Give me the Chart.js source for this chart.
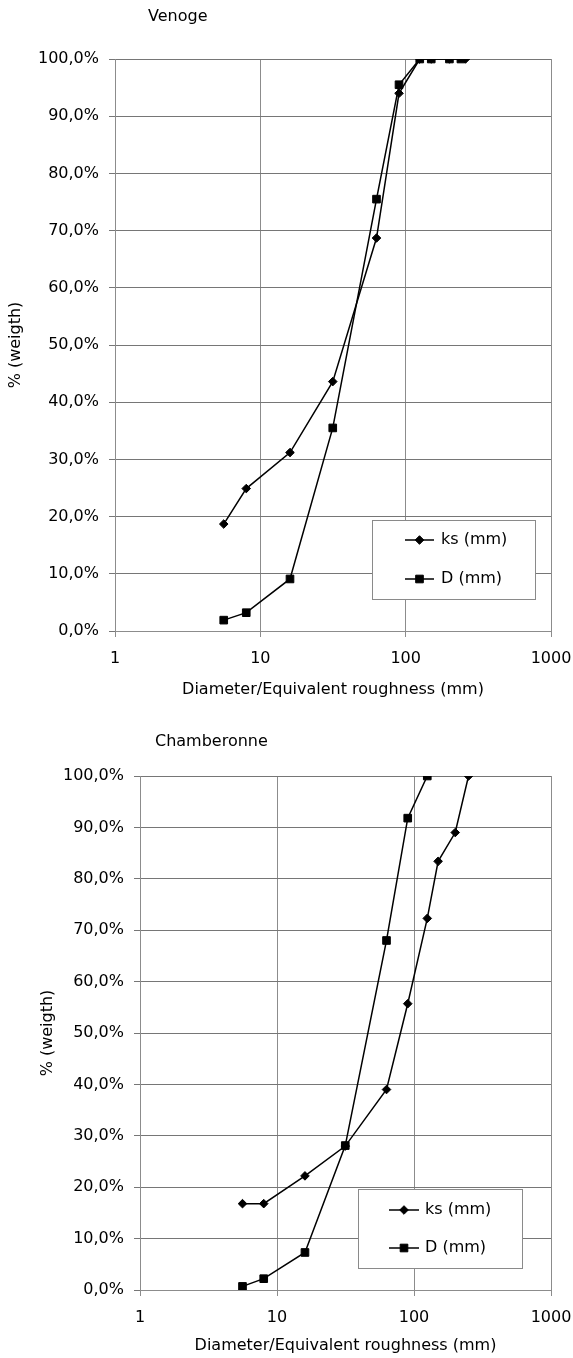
<!DOCTYPE html>
<html><head><meta charset="utf-8">
<script src="https://cdn.jsdelivr.net/npm/chart.js@4.4.1/dist/chart.umd.min.js"></script>
<style>
html,body{margin:0;padding:0;background:#fff;}
#wrap{position:relative;width:573px;height:1358px;overflow:hidden;}
canvas{position:absolute;left:0;}
</style></head><body>
<div id="wrap">
<canvas id="c1" width="573" height="705" style="top:0px;width:573px;height:705px"></canvas>
<canvas id="c2" width="573" height="653" style="top:705px;width:573px;height:653px"></canvas>
</div>
<script>
// ---- data ----
const xTickValues = [1, 10, 100, 1000];
const yMin = 0, yMax = 100, yStep = 10;
const seriesNames = ['ks (mm)', 'D (mm)'];
const chartTitles = ['Venoge', 'Chamberonne'];
const xAxisTitle = 'Diameter/Equivalent roughness (mm)';
const yAxisTitle = '% (weigth)';

const venogeKsX = [5.6, 8, 16, 31.5, 63, 90, 125, 150, 200, 258];
const venogeKsY = [18.7, 24.9, 31.2, 43.6, 68.7, 94.0, 100, 100, 100, 100];
const venogeDX  = [5.6, 8, 16, 31.5, 63, 90, 125, 150, 200, 240];
const venogeDY  = [1.9, 3.2, 9.1, 35.5, 75.5, 95.5, 100, 100, 100, 100];

const chamberonneKsX = [5.6, 8, 16, 31.5, 63, 90, 125, 150, 200, 250];
const chamberonneKsY = [16.8, 16.8, 22.2, 28.0, 39.0, 55.7, 72.3, 83.4, 89.0, 100];
const chamberonneDX  = [5.6, 8, 16, 31.5, 63, 90, 125];
const chamberonneDY  = [0.7, 2.2, 7.3, 28.1, 68.0, 91.8, 100];

// ---- style ----
const FONT = 'DejaVu Sans, Liberation Sans, Arial, sans-serif';
const FS = 16;

function pts(xs, ys) { return xs.map((x, i) => ({x: x, y: ys[i]})); }

const overlayPlugin = {
  id: 'overlay',
  afterDraw(chart, args, opts) {
    const ctx = chart.ctx;
    ctx.save();
    ctx.font = FS + 'px ' + FONT;
    ctx.fillStyle = '#000';
    ctx.textAlign = 'left';
    ctx.textBaseline = 'middle';
    ctx.fillText(opts.title, opts.titleX, opts.titleY);
    const b = opts.legend;
    ctx.fillStyle = '#fff';
    ctx.fillRect(b.x, b.y, b.w, b.h);
    ctx.strokeStyle = '#8a8a8a';
    ctx.lineWidth = 1;
    ctx.strokeRect(Math.round(b.x) + 0.5, Math.round(b.y) + 0.5, Math.round(b.w), Math.round(b.h));
    chart.data.datasets.forEach((ds, i) => {
      const y = b.y + b.rows[i];
      const x0 = b.x + b.lineStart, x1 = x0 + b.lineLen;
      ctx.strokeStyle = ds.borderColor;
      ctx.lineWidth = ds.borderWidth;
      ctx.beginPath(); ctx.moveTo(x0, y); ctx.lineTo(x1, y); ctx.stroke();
      ctx.fillStyle = ds.pointBackgroundColor;
      ctx.strokeStyle = ds.pointBorderColor;
      ctx.lineWidth = ds.pointBorderWidth;
      Chart.helpers.drawPoint(ctx, {pointStyle: ds.pointStyle, radius: ds.pointRadius, rotation: 0, borderWidth: ds.pointBorderWidth}, (x0 + x1) / 2, y);
      ctx.fillStyle = '#000';
      ctx.fillText(ds.label, x1 + b.textGap, y);
    });
    ctx.restore();
  }
};

function makeChart(id, cfg) {
  const ks = {
    label: seriesNames[0], data: cfg.ks, order: 1,
    borderColor: '#000', borderWidth: 1.5, backgroundColor: '#000',
    pointStyle: 'rectRot', pointRadius: 4.3, pointBorderWidth: 1,
    pointBackgroundColor: '#000', pointBorderColor: '#000', tension: 0
  };
  const d = {
    label: seriesNames[1], data: cfg.d, order: 0,
    borderColor: '#000', borderWidth: 1.5, backgroundColor: '#000',
    pointStyle: 'rect', pointRadius: 5.4, pointBorderWidth: 1,
    pointBackgroundColor: '#000', pointBorderColor: '#000', tension: 0
  };
  return new Chart(document.getElementById(id), {
    type: 'line',
    data: {datasets: [ks, d]},
    plugins: [overlayPlugin],
    options: {
      responsive: false, animation: false, devicePixelRatio: 1,
      layout: {padding: cfg.padding},
      plugins: {
        legend: {display: false}, title: {display: false}, tooltip: {enabled: false},
        overlay: {title: cfg.title, titleX: cfg.titleX, titleY: cfg.titleY, legend: cfg.legend}
      },
      scales: {
        x: {
          type: 'logarithmic', min: 1, max: 1000,
          afterBuildTicks: s => { s.ticks = xTickValues.map(v => ({value: v, major: true})); },
          afterFit: s => { s.height = cfg.xHeight; s.paddingLeft = 0; s.paddingRight = 0; },
          ticks: {color: '#000', font: {family: FONT, size: FS}, padding: 12, maxRotation: 0, autoSkip: false,
                  callback: v => String(v)},
          grid: {color: '#8c8c8c', lineWidth: 1, tickLength: 6, drawTicks: true},
          border: {color: '#8c8c8c', width: 1},
          title: {display: true, text: xAxisTitle, color: '#000', font: {family: FONT, size: FS},
                  padding: {top: 0, bottom: cfg.xTitlePad}}
        },
        y: {
          min: yMin, max: yMax,
          afterFit: s => { s.width = cfg.yWidth; s.paddingTop = 0; s.paddingBottom = 0; },
          ticks: {stepSize: yStep, color: '#000', font: {family: FONT, size: FS}, padding: 10,
                  callback: v => v.toFixed(1).replace('.', ',') + '%'},
          grid: {color: '#767676', lineWidth: 1, tickLength: 6, drawTicks: true},
          border: {color: '#8c8c8c', width: 1},
          title: {display: true, text: yAxisTitle, color: '#000', font: {family: FONT, size: FS},
                  padding: {top: cfg.yTitlePad, bottom: 0}}
        }
      }
    }
  });
}

makeChart('c1', {
  ks: pts(venogeKsX, venogeKsY), d: pts(venogeDX, venogeDY),
  padding: {top: 59, right: 22, bottom: 0, left: 0},
  xHeight: 74, yWidth: 115, xTitlePad: 6, yTitlePad: 6,
  title: chartTitles[0], titleX: 148, titleY: 17,
  legend: {x: 372, y: 520, w: 163, h: 79, rows: [20, 59], lineStart: 33, lineLen: 29, textGap: 7}
});

makeChart('c2', {
  ks: pts(chamberonneKsX, chamberonneKsY), d: pts(chamberonneDX, chamberonneDY),
  padding: {top: 71, right: 22, bottom: 0, left: 0},
  xHeight: 68, yWidth: 140, xTitlePad: 3, yTitlePad: 38,
  title: chartTitles[1], titleX: 155, titleY: 37,
  legend: {x: 358, y: 484, w: 164, h: 79, rows: [21, 59], lineStart: 31, lineLen: 30, textGap: 6}
});
</script>
</body></html>
